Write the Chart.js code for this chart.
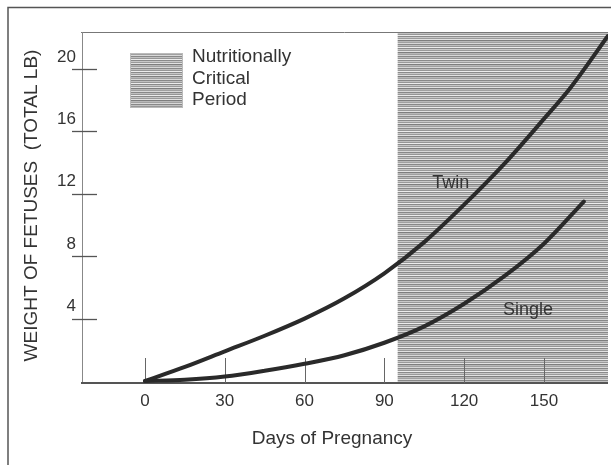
<!DOCTYPE html>
<html>
<head>
<meta charset="utf-8">
<script src="https://cdn.jsdelivr.net/npm/chart.js@4"></script>
<style>
  html, body { margin: 0; padding: 0; background: #fff; }
  canvas { display: block; }
</style>
</head>
<body>
<canvas id="c" width="611" height="465"></canvas>
<script>
// ---------------- data ----------------
const xTicks = [0, 30, 60, 90, 120, 150];
const yTicks = [4, 8, 12, 16, 20];

const twinDays    = [0, 15, 30, 45, 60, 75, 90, 105, 120, 135, 150, 160, 174];
const twinWeights = [0, 0.9, 1.9, 2.9, 4.0, 5.3, 6.9, 8.9, 11.3, 13.9, 16.8, 18.8, 22.1];

const singleDays    = [0, 15, 30, 45, 60, 75, 90, 105, 120, 135, 150, 165];
const singleWeights = [0, 0.08, 0.28, 0.65, 1.1, 1.65, 2.45, 3.5, 4.95, 6.7, 8.8, 11.5];

const criticalPeriod = [95, 174.1];   // days
const seriesLabels = ['Twin', 'Single'];
const legendLines = ['Nutritionally', 'Critical', 'Period'];
const xTitle = 'Days of Pregnancy';
const yTitle = 'WEIGHT OF FETUSES  (TOTAL LB)';

// --------------- styling ---------------
const FONT = '"Liberation Sans", Arial, Helvetica, sans-serif';
const TEXT = '#333';
const LINE = '#2a2a2a';
const shadeRows = ['#8a8a8a','#c8c8c8','#9a9a9a','#e2e2e2','#7e7e7e','#b8b8b8',
                   '#a0a0a0','#d8d8d8','#888888','#c0c0c0','#969696','#ececec'];

function makePattern(ctx) {
  const c = document.createElement('canvas');
  c.width = 8; c.height = shadeRows.length;
  const p = c.getContext('2d');
  shadeRows.forEach((col, i) => { p.fillStyle = col; p.fillRect(0, i, 8, 1); });
  return ctx.createPattern(c, 'repeat');
}

const toPts = (xs, ys) => xs.map((d, i) => ({ x: d, y: ys[i] }));

const decor = {
  id: 'decor',
  beforeDatasetsDraw(chart) {
    const { ctx, chartArea: a, scales: { x, y } } = chart;
    const pat = makePattern(ctx);
    ctx.save();
    // critical period shading
    const x0 = x.getPixelForValue(criticalPeriod[0]);
    const x1 = x.getPixelForValue(criticalPeriod[1]);
    ctx.fillStyle = pat;
    ctx.fillRect(x0, a.top, x1 - x0, a.bottom - a.top);

    // plot top border (left part)
    ctx.strokeStyle = '#777'; ctx.lineWidth = 1;
    ctx.beginPath(); ctx.moveTo(a.left - 1, a.top + 0.5); ctx.lineTo(x1, a.top + 0.5); ctx.stroke();
    // left axis
    ctx.strokeStyle = '#888';
    ctx.beginPath(); ctx.moveTo(a.left + 0.5, a.top); ctx.lineTo(a.left + 0.5, a.bottom); ctx.stroke();
    // bottom axis
    ctx.strokeStyle = '#555'; ctx.lineWidth = 2;
    ctx.beginPath(); ctx.moveTo(a.left - 1, a.bottom); ctx.lineTo(x1, a.bottom); ctx.stroke();

    // y tick marks crossing axis
    ctx.strokeStyle = '#555'; ctx.lineWidth = 1.3;
    y.ticks.forEach(t => {
      const py = Math.round(y.getPixelForValue(t.value)) + 0.5;
      ctx.beginPath(); ctx.moveTo(a.left - 10, py); ctx.lineTo(a.left + 15, py); ctx.stroke();
    });
    // x tick marks inside
    ctx.strokeStyle = '#666'; ctx.lineWidth = 1;
    x.ticks.forEach(t => {
      const px = Math.round(x.getPixelForValue(t.value)) + 0.5;
      ctx.beginPath(); ctx.moveTo(px, a.bottom); ctx.lineTo(px, a.bottom - 25); ctx.stroke();
    });

    // legend box
    ctx.fillStyle = pat;
    ctx.fillRect(130, 53, 53, 55);
    ctx.strokeStyle = '#bbb'; ctx.lineWidth = 1;
    ctx.strokeRect(130.5, 53.5, 52, 54);
    ctx.fillStyle = TEXT;
    ctx.font = '19px ' + FONT;
    ctx.textAlign = 'left'; ctx.textBaseline = 'middle';
    legendLines.forEach((s, i) => ctx.fillText(s, 192, 57 + i * 21.5));
    ctx.restore();
  },
  afterDatasetsDraw(chart) {
    const { ctx, scales: { x, y } } = chart;
    ctx.save();
    ctx.fillStyle = '#333';
    ctx.font = '18px ' + FONT;
    ctx.textAlign = 'center'; ctx.textBaseline = 'middle';
    ctx.fillText(seriesLabels[0], x.getPixelForValue(115), y.getPixelForValue(12.7));
    ctx.fillText(seriesLabels[1], x.getPixelForValue(144), y.getPixelForValue(4.55));
    ctx.restore();
  },
  afterDraw(chart) {
    const { ctx, chartArea: a } = chart;
    ctx.save();
    ctx.fillStyle = TEXT;
    ctx.font = '19px ' + FONT;
    ctx.textAlign = 'center'; ctx.textBaseline = 'middle';
    ctx.fillText(xTitle, 332, 439);
    ctx.translate(32, (a.top + a.bottom) / 2 - 2);
    ctx.rotate(-Math.PI / 2);
    ctx.fillText(yTitle, 0, 0);
    ctx.restore();
    // outer frame
    ctx.save();
    ctx.strokeStyle = '#555'; ctx.lineWidth = 1.5;
    ctx.beginPath(); ctx.moveTo(8, 465); ctx.lineTo(8, 7.5); ctx.lineTo(611, 7.5); ctx.stroke();
    ctx.restore();
  }
};

new Chart(document.getElementById('c'), {
  type: 'line',
  data: {
    datasets: [
      { label: seriesLabels[0], data: toPts(twinDays, twinWeights) },
      { label: seriesLabels[1], data: toPts(singleDays, singleWeights) }
    ]
  },
  options: {
    responsive: false,
    animation: false,
    devicePixelRatio: 1,
    layout: { padding: { top: 32, right: 3, left: 0, bottom: 0 } },
    elements: {
      line: { borderColor: LINE, borderWidth: 4, cubicInterpolationMode: 'monotone', borderCapStyle: 'round' },
      point: { radius: 0 }
    },
    plugins: { legend: { display: false }, tooltip: { enabled: false } },
    scales: {
      x: {
        type: 'linear', min: -23.7, max: 174.1,
        afterBuildTicks: s => { s.ticks = xTicks.map(v => ({ value: v })); },
        afterFit: s => { s.height = 82; },
        grid: { display: false, drawTicks: false, tickLength: 0 },
        border: { display: false },
        ticks: { font: { size: 17, family: FONT }, color: TEXT, padding: 8, maxRotation: 0, autoSkip: false }
      },
      y: {
        type: 'linear', min: -0.13, max: 22.37,
        afterBuildTicks: s => { s.ticks = yTicks.map(v => ({ value: v })); },
        afterFit: s => { s.width = 82; },
        grid: { display: false, drawTicks: false, tickLength: 0 },
        border: { display: false },
        ticks: { font: { size: 17, family: FONT }, color: TEXT, padding: 6, labelOffset: -12, autoSkip: false }
      }
    }
  },
  plugins: [decor]
});
</script>
</body>
</html>
